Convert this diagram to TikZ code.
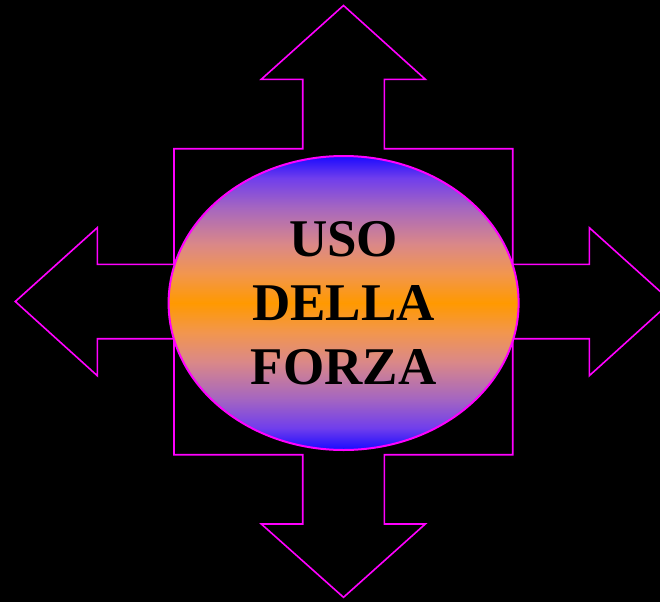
\documentclass[tikz,border=0pt]{standalone}
\usepackage{fontspec}
\setmainfont{Liberation Serif}
\usetikzlibrary{shapes.geometric}
\definecolor{edgeMagenta}{HTML}{FF00FF}
\definecolor{forceBlue}{HTML}{1A0AFF}
\definecolor{forceViolet}{RGB}{112,62,236}
\definecolor{forceMauve}{RGB}{165,102,192}
\definecolor{forcePink}{RGB}{218,136,136}
\definecolor{forceSalmon}{RGB}{242,150,78}
\definecolor{forceOrange}{HTML}{FF9900}
\pgfdeclareverticalshading{forzashade}{100bp}{%
  color(0bp)=(forceBlue); color(25bp)=(forceBlue);
  color(28.75bp)=(forceViolet); color(33.75bp)=(forceMauve);
  color(40bp)=(forcePink); color(45bp)=(forceSalmon);
  color(50bp)=(forceOrange);
  color(55bp)=(forceSalmon); color(60bp)=(forcePink);
  color(66.25bp)=(forceMauve); color(71.25bp)=(forceViolet);
  color(75bp)=(forceBlue); color(100bp)=(forceBlue)}

\begin{document}
\begin{tikzpicture}[
    x=1pt, y=-1pt,
    cross/.style={draw=edgeMagenta, line width=1.6pt, line join=miter},
    blob/.style={ellipse, draw=edgeMagenta, line width=2pt,
                 shading=forzashade,
                 minimum width=350pt, minimum height=294pt, inner sep=0pt,
                 align=center, font=\fontsize{53}{64}\selectfont\bfseries},
  ]
    % background
    \fill[black] (0,0) rectangle (660,602);
    \clip (0,0) rectangle (660,602);

    % four-way arrow
    \draw[cross] (343.5,5.5) -- (425.3,79.3) -- (384.3,79.3) -- (384.3,148.7)
      -- (512.7,148.7) -- (512.7,264.3) -- (589.3,264.3) -- (589.3,227.7)
      -- (671.3,301.5) -- (589.3,375.7) -- (589.3,338.7) -- (512.7,338.7)
      -- (512.7,454.7) -- (384.3,454.7) -- (384.3,524) -- (425.3,524)
      -- (343.5,597.3) -- (261.3,524) -- (302.7,524) -- (302.7,454.7)
      -- (174,454.7) -- (174,338.7) -- (97.3,338.7) -- (97.3,375.7)
      -- (15.3,301.5) -- (97.3,227.7) -- (97.3,264.3) -- (174,264.3)
      -- (174,148.7) -- (302.7,148.7) -- (302.7,79.3) -- (261.3,79.3) -- cycle;

    % centre
    \node[blob] (forza) at (343.6,303) {USO\\DELLA\\FORZA};
\end{tikzpicture}
\end{document}
